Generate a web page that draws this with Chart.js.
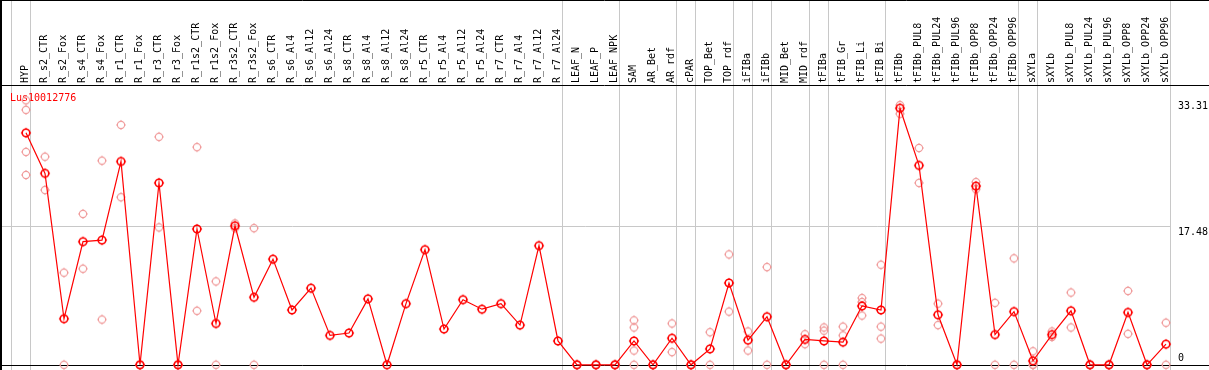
<!DOCTYPE html>
<html>
<head>
<meta charset="utf-8">
<script src="https://cdn.jsdelivr.net/npm/chart.js"></script>
<style>
  html, body { margin: 0; padding: 0; background: #fff; }
  #wrap { width: 1209px; height: 370px; }
</style>
</head>
<body>
<div id="wrap"><canvas id="expr" width="1209" height="370"></canvas></div>
<script>
// gene shown in the plot
const geneName = "Lus10012776";

const samples = ["HYP", "R_s2_CTR", "R_s2_Fox", "R_s4_CTR", "R_s4_Fox", "R_r1_CTR", "R_r1_Fox", "R_r3_CTR", "R_r3_Fox",
    "R_r1s2_CTR", "R_r1s2_Fox", "R_r3s2_CTR", "R_r3s2_Fox", "R_s6_CTR", "R_s6_Al4", "R_s6_Al12", "R_s6_Al24",
    "R_s8_CTR", "R_s8_Al4", "R_s8_Al12", "R_s8_Al24", "R_r5_CTR", "R_r5_Al4", "R_r5_Al12", "R_r5_Al24",
    "R_r7_CTR", "R_r7_Al4", "R_r7_Al12", "R_r7_Al24", "LEAF_N", "LEAF_P", "LEAF_NPK", "SAM", "AR_Bet", "AR_rdf",
    "cPAR", "TOP_Bet", "TOP_rdf", "iFIBa", "iFIBb", "MID_Bet", "MID_rdf", "tFIBa", "tFIB_Gr", "tFIB_Li", "tFIB_Bi",
    "tFIBb", "tFIBb_PUL8", "tFIBb_PUL24", "tFIBb_PUL96", "tFIBb_OPP8", "tFIBb_OPP24", "tFIBb_OPP96",
    "sXYLa", "sXYLb", "sXYLb_PUL8", "sXYLb_PUL24", "sXYLb_PUL96", "sXYLb_OPP8", "sXYLb_OPP24", "sXYLb_OPP96"];

// mean expression per sample
const means = [29.2, 24.1, 5.8, 15.5, 15.7, 25.6, 0, 22.9, 0,
    17.1, 5.2, 17.5, 8.5, 13.3, 6.9, 9.65, 3.7,
    4.0, 8.3, 0, 7.7, 14.5, 4.5, 8.2, 7.0,
    7.7, 5.0, 15.0, 3.0, 0, 0, 0, 3.0, 0, 3.35,
    0, 2.0, 10.3, 3.1, 6.05, 0, 3.2, 3.0, 2.85, 7.4, 6.9,
    32.3, 25.1, 6.3, 0, 22.5, 3.8, 6.7,
    0.5, 3.8, 6.8, 0, 0, 6.6, 0, 2.6];

// single replicates (null = no replicate)
const rep1 = [33.3, 26.2, 11.6, 19.0, 25.7, 30.2, 0, 28.7, 0,
    27.4, 10.5, 17.8, 17.2, null, null, null, null,
    null, null, null, null, null, null, null, null,
    null, null, null, null, 0, 0, 0, 5.6, 0, 5.2,
    0, 4.1, 13.9, 4.2, 12.3, 0, 3.85, 4.7, 4.8, 8.4, 12.6,
    32.7, 27.3, 7.7, 0, 23.0, 7.8, 13.4,
    1.7, 4.2, 9.1, 0, 0, 9.3, 0, 5.3];
const rep2 = [32.1, 22.0, 0, 12.1, 5.7, 21.1, 0, 17.3, 0,
    6.8, 0, 17.2, 0, null, null, null, null,
    null, null, null, null, null, null, null, null,
    null, null, null, null, 0, 0, 0, 4.7, 0, 1.6,
    0, 0, 6.7, 1.8, 0, 0, 2.6, 4.3, 3.7, 7.9, 4.8,
    31.6, 22.9, 5.0, 0, 22.1, 0, 0,
    0, 3.5, 4.7, 0, 0, 3.9, 0, 0];
const rep3 = [26.8, null, null, null, null, null, null, null, null,
    null, null, null, null, null, null, null, null,
    null, null, null, null, null, null, null, null,
    null, null, null, null, null, null, null, 1.8, null, null,
    null, null, null, null, null, null, null, 0, 0, 6.2, 3.3,
    null, null, null, null, null, null, null,
    0, null, null, null, null, null, null, null];
const rep4 = [23.9, null, null, null, null, null, null, null, null,
    null, null, null, null, null, null, null, null,
    null, null, null, null, null, null, null, null,
    null, null, null, null, null, null, null, 0, null, null,
    null, null, null, null, null, null, null, null, null, null, null,
    null, null, null, null, null, null, null,
    null, null, null, null, null, null, null, null];

const yTicks = [0, 17.48, 33.31];
// sample index after which a group separator is drawn
const groupEnds = [-1, 0, 28, 31, 34, 35, 37, 38, 39, 41, 42, 45, 52, 53, 60];

const monoFont = '10px "DejaVu Sans Mono"';

// circle marker with small ticks, like the original plot symbols
function marker(color, lw, r) {
    var c = document.createElement("canvas");
    c.width = 14; c.height = 14;
    var g = c.getContext("2d");
    g.strokeStyle = color;
    g.lineWidth = lw;
    g.beginPath();
    g.arc(7, 7, r, 0, Math.PI * 2);
    g.stroke();
    g.lineWidth = 1;
    g.beginPath();
    g.moveTo(7, 7 - r - 1.3); g.lineTo(7, 7 - r);
    g.moveTo(7, 7 + r); g.lineTo(7, 7 + r + 1.3);
    g.moveTo(7 - r - 1.3, 7); g.lineTo(7 - r, 7);
    g.moveTo(7 + r, 7); g.lineTo(7 + r + 1.3, 7);
    g.stroke();
    return c;
}

const meanMark = marker("#ff0000", 1.6, 3.8);
const repMark = marker("#f09a9a", 1.1, 3.6);

const frame = {
    id: "frame",
    beforeDatasetsDraw(chart) {
        const ctx = chart.ctx;
        const xs = chart.scales.x, ys = chart.scales.y;
        const W = chart.width, H = chart.height;
        const seg = (x1, y1, x2, y2) => { ctx.beginPath(); ctx.moveTo(x1, y1); ctx.lineTo(x2, y2); ctx.stroke(); };
        ctx.save();
        // grey separators + grid line
        ctx.strokeStyle = "#c8c8c8";
        ctx.lineWidth = 1;
        var lastX = 0;
        groupEnds.forEach(i => {
            var px = Math.round(xs.getPixelForValue(i) + 4) + 0.5;
            seg(px, 0, px, H);
            lastX = px;
        });
        var gy = Math.round(ys.getPixelForValue(yTicks[1])) + 0.5;
        seg(0, gy, lastX, gy);
        // black frame
        ctx.strokeStyle = "#000";
        seg(0, 0.5, W, 0.5);
        seg(0, 85.5, W, 85.5);
        seg(0, Math.round(chart.chartArea.bottom) + 0.5, W, Math.round(chart.chartArea.bottom) + 0.5);
        ctx.lineWidth = 2;
        seg(1, 0, 1, H);
        // gene name
        ctx.font = monoFont;
        ctx.fillStyle = "#ff0000";
        ctx.textBaseline = "alphabetic";
        ctx.textAlign = "left";
        ctx.fillText(geneName, 10, 101);
        // value labels on the right
        ctx.fillStyle = "#000";
        yTicks.forEach(v => {
            var by = Math.min(ys.getPixelForValue(v) + 9, chart.chartArea.bottom - 4);
            ctx.fillText(String(v), 1178, by);
        });
        ctx.restore();
    }
};

new Chart("expr", {
    type: "line",
    data: {
        labels: samples,
        datasets: [{
            label: "mean",
            data: means,
            borderColor: "#ff0000",
            borderWidth: 1.2,
            pointStyle: meanMark,
            pointRadius: 4,
            tension: 0,
            clip: false,
            order: 0
        }].concat([rep1, rep2, rep3, rep4].map((r, k) => ({
            label: "rep" + (k + 1),
            data: r,
            showLine: false,
            pointStyle: repMark,
            pointRadius: 4,
            clip: false,
            order: 1
        })))
    },
    options: {
        responsive: false,
        animation: false,
        events: [],
        layout: { padding: { left: 16.5, right: 33.5, top: 0, bottom: 1 } },
        scales: {
            x: {
                position: "top",
                offset: true,
                grid: { display: false, drawTicks: false },
                border: { display: false },
                ticks: {
                    autoSkip: false,
                    minRotation: 90,
                    maxRotation: 90,
                    padding: 3,
                    labelOffset: 11,
                    color: "#000",
                    font: { family: "DejaVu Sans Mono", size: 10 }
                },
                afterFit: function(s) { s.height = 86; }
            },
            y: {
                display: false,
                min: 0,
                max: 35.1
            }
        },
        plugins: {
            legend: { display: false },
            tooltip: { enabled: false }
        }
    },
    plugins: [frame]
});
</script>
</body>
</html>
